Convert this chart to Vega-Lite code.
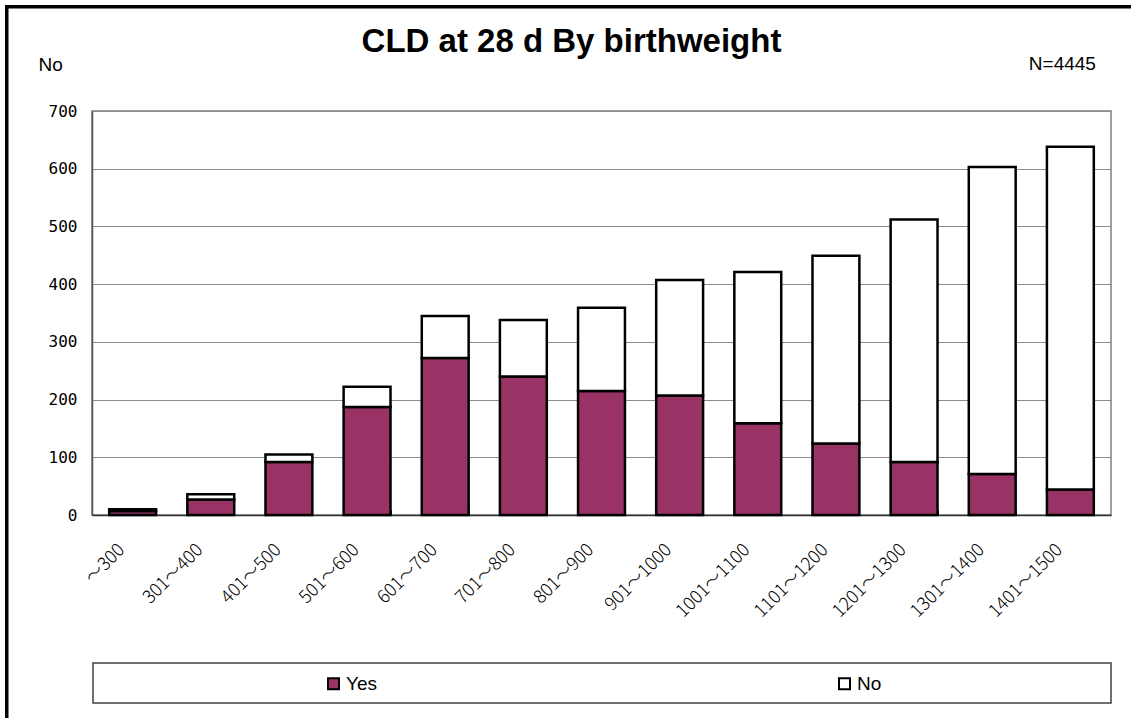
{
  "$schema": "https://vega.github.io/schema/vega-lite/v6.json",
  "width": 1019,
  "height": 404,
  "autosize": {"type": "none"},
  "padding": {"left": 92, "top": 111, "right": 20, "bottom": 203},
  "background": "white",
  "title": {
    "text": "CLD at 28 d By birthweight",
    "font": "Liberation Sans",
    "fontSize": 33,
    "fontWeight": "bold",
    "color": "black",
    "anchor": "middle",
    "frame": "group",
    "baseline": "alphabetic",
    "offset": 0,
    "dx": -30,
    "dy": 80
  },
  "datasets": {
    "cld": [
      {"bw": "〜300", "series": "Yes", "count": 7},
      {"bw": "〜300", "series": "No", "count": 3},
      {"bw": "301〜400", "series": "Yes", "count": 27},
      {"bw": "301〜400", "series": "No", "count": 9},
      {"bw": "401〜500", "series": "Yes", "count": 92},
      {"bw": "401〜500", "series": "No", "count": 13},
      {"bw": "501〜600", "series": "Yes", "count": 187},
      {"bw": "501〜600", "series": "No", "count": 35},
      {"bw": "601〜700", "series": "Yes", "count": 272},
      {"bw": "601〜700", "series": "No", "count": 73},
      {"bw": "701〜800", "series": "Yes", "count": 240},
      {"bw": "701〜800", "series": "No", "count": 98},
      {"bw": "801〜900", "series": "Yes", "count": 215},
      {"bw": "801〜900", "series": "No", "count": 144},
      {"bw": "901〜1000", "series": "Yes", "count": 207},
      {"bw": "901〜1000", "series": "No", "count": 200},
      {"bw": "1001〜1100", "series": "Yes", "count": 159},
      {"bw": "1001〜1100", "series": "No", "count": 262},
      {"bw": "1101〜1200", "series": "Yes", "count": 124},
      {"bw": "1101〜1200", "series": "No", "count": 325},
      {"bw": "1201〜1300", "series": "Yes", "count": 92},
      {"bw": "1201〜1300", "series": "No", "count": 420},
      {"bw": "1301〜1400", "series": "Yes", "count": 71},
      {"bw": "1301〜1400", "series": "No", "count": 532},
      {"bw": "1401〜1500", "series": "Yes", "count": 44},
      {"bw": "1401〜1500", "series": "No", "count": 594}
    ]
  },
  "layer": [
    {
      "data": {"name": "cld"},
      "mark": {"type": "bar", "stroke": "black", "strokeWidth": 2.5},
      "encoding": {
        "x": {
          "field": "bw",
          "type": "nominal",
          "sort": null,
          "scale": {"paddingInner": 0.4, "paddingOuter": 0.22},
          "axis": {
            "title": null,
            "labelAngle": -45,
            "labelAlign": "right",
            "labelBaseline": "middle",
            "labelFont": "Noto Sans CJK JP",
            "labelFontSize": 18,
            "labelFontWeight": 300,
            "labelColor": "black",
            "labelPadding": 37,
            "labelOffset": -11,
            "ticks": true,
            "tickBand": "extent",
            "tickSize": -5,
            "tickColor": "black",
            "tickWidth": 1,
            "domainColor": "#333333",
            "domainWidth": 1.5,
            "grid": false
          }
        },
        "y": {
          "field": "count",
          "type": "quantitative",
          "stack": "zero",
          "scale": {"domain": [0, 700]},
          "axis": {
            "title": "No",
            "titleAngle": 0,
            "titleAlign": "left",
            "titleBaseline": "alphabetic",
            "titleX": -54,
            "titleY": -41,
            "titleFont": "Liberation Sans",
            "titleFontSize": 19,
            "titleFontWeight": "normal",
            "titleColor": "black",
            "values": [0, 100, 200, 300, 400, 500, 600, 700],
            "labelFont": "DejaVu Sans Mono",
            "labelFontSize": 16,
            "labelColor": "black",
            "labelPadding": 15,
            "ticks": false,
            "domainColor": "#555555",
            "domainWidth": 1.5,
            "grid": true,
            "gridColor": "#8c8c8c",
            "gridWidth": 1
          }
        },
        "fill": {
          "field": "series",
          "type": "nominal",
          "sort": ["Yes", "No"],
          "scale": {"domain": ["Yes", "No"], "range": ["#993366", "#ffffff"]},
          "legend": {
            "title": null,
            "orient": "none",
            "legendX": 232,
            "legendY": 563,
            "columns": 2,
            "columnPadding": 458,
            "padding": 0,
            "symbolType": "square",
            "symbolSize": 121,
            "symbolStrokeColor": "black",
            "symbolStrokeWidth": 2,
            "labelFont": "Liberation Sans",
            "labelFontSize": 19,
            "labelColor": "black",
            "labelOffset": 3
          }
        },
        "order": {"field": "series", "sort": "descending"}
      }
    },
    {
      "data": {"values": [{"label": "N=4445"}]},
      "mark": {
        "type": "text",
        "font": "Liberation Sans",
        "fontSize": 19,
        "color": "black",
        "baseline": "alphabetic",
        "align": "center",
        "dx": -8,
        "dy": -41
      },
      "encoding": {
        "x": {"datum": "1401〜1500", "type": "nominal"},
        "y": {"datum": 700, "type": "quantitative"},
        "text": {"field": "label"}
      }
    },
    {
      "data": {"values": [{"f1": "frame"}]},
      "mark": {"type": "point", "opacity": 0},
      "encoding": {
        "shape": {
          "field": "f1",
          "type": "nominal",
          "legend": {
            "title": null,
            "orient": "none",
            "legendX": -86.25,
            "legendY": -105.25,
            "padding": 1000,
            "strokeColor": "black",
            "symbolOpacity": 0,
            "labelExpr": "''"
          }
        }
      }
    },
    {
      "data": {"values": [{"f2": 1}]},
      "mark": {"type": "point", "opacity": 0},
      "encoding": {
        "size": {
          "field": "f2",
          "type": "quantitative",
          "legend": {
            "title": null,
            "orient": "none",
            "legendX": -85.25,
            "legendY": -104.25,
            "padding": 1000,
            "strokeColor": "black",
            "symbolOpacity": 0,
            "labelExpr": "''"
          }
        }
      }
    },
    {
      "data": {"values": [{"f3": 2}]},
      "mark": {"type": "point", "opacity": 0},
      "encoding": {
        "strokeWidth": {
          "field": "f3",
          "type": "quantitative",
          "legend": {
            "title": null,
            "orient": "none",
            "legendX": -84.25,
            "legendY": -103.25,
            "padding": 1000,
            "strokeColor": "black",
            "symbolOpacity": 0,
            "labelExpr": "''"
          }
        }
      }
    },
    {
      "data": {"values": [{"b": "left"}, {"b": "right"}]},
      "mark": {"type": "point", "opacity": 0},
      "encoding": {
        "strokeDash": {
          "field": "b",
          "type": "nominal",
          "legend": {
            "title": null,
            "orient": "none",
            "legendX": 1,
            "legendY": 552,
            "padding": 0,
            "columns": 2,
            "columnPadding": 938,
            "symbolType": "square",
            "symbolSize": 1560,
            "symbolStrokeWidth": 0,
            "symbolOpacity": 0,
            "labelExpr": "''",
            "labelOffset": 0,
            "strokeColor": "#404040"
          }
        }
      }
    }
  ],
  "config": {
    "view": {"stroke": "#808080", "strokeWidth": 1.5},
    "legend": {"strokeWidth": 1.5}
  }
}
